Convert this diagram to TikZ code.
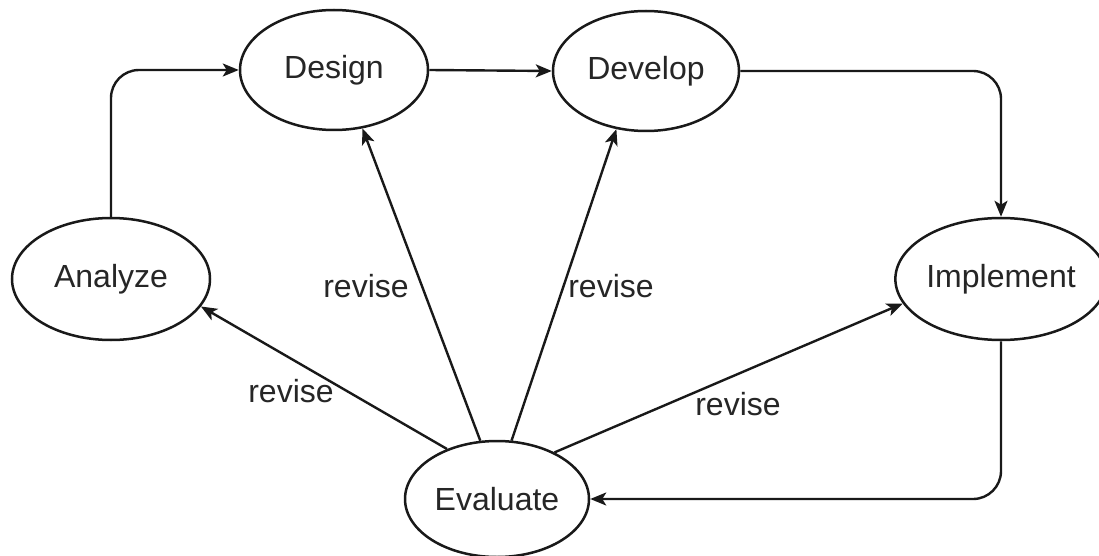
\documentclass[tikz,border=0pt]{standalone}
\usepackage{fontspec}
\setmainfont{Liberation Sans}
\usetikzlibrary{shapes.geometric,arrows.meta}
\begin{document}
\begin{tikzpicture}[x=1pt,y=-1pt,
  stage/.style={draw=black!90, line width=2.5pt, ellipse, inner sep=0pt, text=black!85, font=\fontsize{32}{36}\selectfont},
  arr/.style={draw=black!90, line width=2.4pt, -{Stealth[length=16pt,width=13pt,inset=4pt]}},
  lbl/.style={text=black!85, font=\fontsize{32}{36}\selectfont, inner sep=0pt}]
\useasboundingbox[fill=white] (0,0) rectangle (1099,556);
\node[stage, minimum width=188pt, minimum height=120pt] (de) at (334,70) {Design};
\node[stage, minimum width=186pt, minimum height=120pt] (dv) at (646,71) {Develop};
\node[stage, minimum width=198pt, minimum height=122pt] (an) at (111,279) {Analyze};
\node[stage, minimum width=194pt, minimum height=122pt] (im) at (1001,279) {Implement};
\node[stage, minimum width=184pt, minimum height=116pt] (ev) at (497,499) {Evaluate};
\draw[arr, rounded corners=28pt] (an.north) |- (de.west);
\draw[arr] (de.east) -- (dv.west);
\draw[arr, rounded corners=28pt] (dv.east) -| (im.north);
\draw[arr, rounded corners=28pt] (im.south) |- (ev.east);
\draw[arr] (ev.135) -- (an.-17);
\draw[arr] (ev.106) -- (de.-64);
\draw[arr] (ev.76) -- (dv.-117);
\draw[arr] (ev.39) -- (im.194);
\node[lbl] (l1) at (366,286) {revise};
\node[lbl] (l2) at (611,286) {revise};
\node[lbl] (l3) at (291,391) {revise};
\node[lbl] (l4) at (738,404) {revise};
\end{tikzpicture}
\end{document}
